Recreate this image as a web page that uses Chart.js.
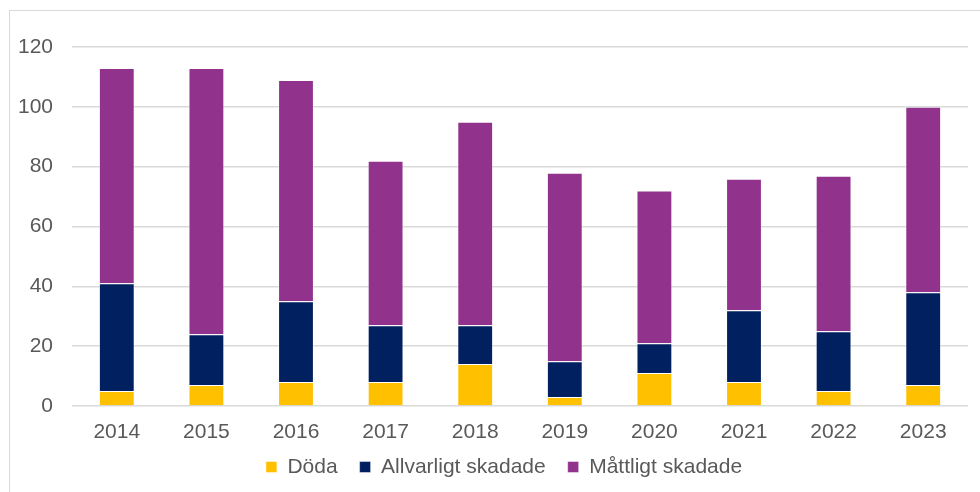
<!DOCTYPE html>
<html>
<head>
<meta charset="utf-8">
<script src="https://cdn.jsdelivr.net/npm/chart.js@4.4.1/dist/chart.umd.min.js"></script>
<style>
  html, body { margin: 0; padding: 0; background: #fff; }
  #wrap { position: relative; width: 980px; height: 492px; overflow: hidden; }
  #frame { position: absolute; left: 9px; top: 10px; width: 1000px; height: 520px; border: 1.5px solid #d9d9d9; box-sizing: border-box; }
  canvas { position: absolute; left: 0; top: 0; }
</style>
</head>
<body>
<div id="wrap">
  <div id="frame"></div>
  <canvas id="chart" width="980" height="492"></canvas>
</div>
<script>
// Years on the x axis
const years = ['2014', '2015', '2016', '2017', '2018', '2019', '2020', '2021', '2022', '2023'];

// Stacked series
const doda = [5, 7, 8, 8, 14, 3, 11, 8, 5, 7];
const allvarligt = [36, 17, 27, 19, 13, 12, 10, 24, 20, 31];
const mattligt = [72, 89, 74, 55, 68, 63, 51, 44, 52, 62];

const yTicks = [0, 20, 40, 60, 80, 100, 120];

const textColor = '#595959';
const gridColor = '#d9d9d9';
const font = { family: 'Liberation Sans, Arial, sans-serif', size: 21 };

function barSet(label, data, color) {
  return {
    label: label,
    data: data,
    backgroundColor: color,
    borderColor: 'rgba(255,255,255,0.45)',
    borderWidth: 1,
    categoryPercentage: 1.0,
    barPercentage: 0.4
  };
}

// nudge the legend up under the year labels, like the original
const legendShift = {
  id: 'legendShift',
  afterLayout(chart) {
    const lg = chart.legend;
    const dy = -11.5, dx = 20;
    lg.top += dy; lg.bottom += dy;
    lg.left += dx; lg.right += dx;
  }
};

const ctx = document.getElementById('chart').getContext('2d');
new Chart(ctx, {
  type: 'bar',
  data: {
    labels: years,
    datasets: [
      barSet('Döda', doda, '#FFC000'),
      barSet('Allvarligt skadade', allvarligt, '#002060'),
      barSet('Måttligt skadade', mattligt, '#91328C')
    ]
  },
  plugins: [legendShift],
  options: {
    responsive: false,
    animation: false,
    layout: { padding: { left: 0, right: 12, top: 47, bottom: 0 } },
    plugins: {
      legend: {
        position: 'bottom',
        maxHeight: 46,
        labels: {
          color: textColor,
          font: font,
          boxWidth: 11,
          boxHeight: 11,
          padding: 22
        }
      },
      tooltip: { enabled: false }
    },
    scales: {
      x: {
        stacked: true,
        grid: { display: false, drawTicks: false },
        border: { display: false },
        ticks: { color: textColor, font: font, padding: 14, maxRotation: 0 },
        afterFit: axis => { axis.height = 40; }
      },
      y: {
        stacked: true,
        min: 0,
        max: 120,
        afterBuildTicks: axis => { axis.ticks = yTicks.map(v => ({ value: v })); },
        grid: { color: gridColor, lineWidth: 1.5, drawTicks: false },
        border: { display: false },
        ticks: { color: textColor, font: font, padding: 19 },
        afterFit: axis => { axis.width = 72; }
      }
    }
  }
});
</script>
</body>
</html>
